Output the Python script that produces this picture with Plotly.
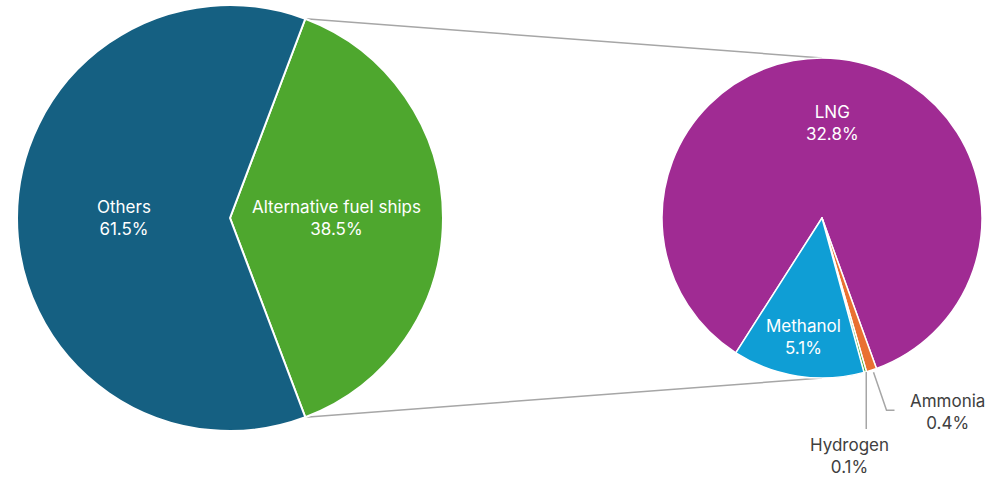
import math
import plotly.graph_objects as go

# ---------------- data ----------------
main_labels = ["Alternative fuel ships", "Others"]
main_values = [38.5, 61.5]

sub_labels = ["LNG", "Ammonia", "Hydrogen", "Methanol"]
sub_values = [32.8, 0.4, 0.1, 5.1]

# ---------------- styles ----------------
main_colors = ["#4EA72E", "#156082"]
sub_colors = ["#A02B93", "#E97132", "#4EA72E", "#0F9ED5"]
FONT = "Inter"
FS = 17
GRAY = "#A6A6A6"
DARK = "#404040"

W, H = 998, 478
L_CX, L_CY, L_R = 230, 218, 213      # left pie (px)
R_CX, R_CY, R_R = 822, 218, 160      # right pie (px)

main_total = sum(main_values)
sub_total = sum(sub_values)
# green slice centred on 3 o'clock
main_rot = 90 - 180 * main_values[0] / main_total
sub_rot = 212.6


def to_paper(x, y):
    return x / W, 1 - y / H


def pt(cx, cy, r, ang):
    a = math.radians(ang)
    return cx + r * math.sin(a), cy - r * math.cos(a)


def dom(cx, cy, r):
    return dict(x=[(cx - r) / W, (cx + r) / W],
                y=[(H - cy - r) / H, (H - cy + r) / H])


def mid_angles(values, rot):
    tot = sum(values)
    out, start = [], rot
    for v in values:
        span = 360 * v / tot
        out.append((start, start + span, start + span / 2))
        start += span
    return out


fig = go.Figure()
fig.add_trace(go.Pie(
    labels=main_labels, values=main_values, sort=False, direction="clockwise",
    rotation=main_rot, textinfo="none", hoverinfo="label+value",
    marker=dict(colors=main_colors, line=dict(color="white", width=2)),
    domain=dom(L_CX, L_CY, L_R), showlegend=False))
fig.add_trace(go.Pie(
    labels=sub_labels, values=sub_values, sort=False, direction="clockwise",
    rotation=sub_rot, textinfo="none", hoverinfo="label+value",
    marker=dict(colors=sub_colors, line=dict(color="white", width=1.5)),
    domain=dom(R_CX, R_CY, R_R), showlegend=False))

annotations = []
shapes = []


def pct(v):
    return f"{v:.1f}%"


def label(x, y, text, color):
    px_, py_ = to_paper(x, y)
    return dict(x=px_, y=py_, xref="paper", yref="paper", text=text,
                showarrow=False, xanchor="center", yanchor="middle",
                align="center",
                font=dict(family=FONT, size=FS, color=color))


# labels for the main pie
main_ang = mid_angles(main_values, main_rot)
for lab, v, (a0, a1, am) in zip(main_labels, main_values, main_ang):
    x, y = pt(L_CX, L_CY, L_R * 0.5, am)
    annotations.append(label(x, y, f"{lab}<br>{pct(v)}", "white"))

# labels for the sub pie
sub_ang = mid_angles(sub_values, sub_rot)
inside_frac = {"LNG": 0.6, "Methanol": 0.75}
for lab, v, (a0, a1, am) in zip(sub_labels, sub_values, sub_ang):
    if lab in inside_frac:
        x, y = pt(R_CX, R_CY, R_R * inside_frac[lab], am)
        annotations.append(label(x, y, f"{lab}<br>{pct(v)}", "white"))
    else:
        ex, ey = pt(R_CX, R_CY, R_R, am)
        if lab == "Ammonia":
            pts = [(ex + 2, ey + 2), (ex + 15, ey + 40), (ex + 23, ey + 40)]
            tx, ty = pts[-1][0] + 53, pts[-1][1] + 2
        else:
            pts = [(ex + 1, ey), (ex + 1, ey + 57)]
            tx, ty = ex - 16, ey + 84
        path = "M " + " L ".join(f"{to_paper(a, b)[0]:.5f},{to_paper(a, b)[1]:.5f}" for a, b in pts)
        shapes.append(dict(type="path", path=path, xref="paper", yref="paper",
                           line=dict(color=GRAY, width=1.5)))
        annotations.append(label(tx, ty, f"{lab}<br>{pct(v)}", DARK))

# connector lines between the two pies
top_l = pt(L_CX, L_CY, L_R, main_ang[0][0])
bot_l = pt(L_CX, L_CY, L_R, main_ang[0][1])
top_r = pt(R_CX, R_CY, R_R, 0)
bot_r = pt(R_CX, R_CY, R_R, 180)
for (a, b) in [(top_l, top_r), (bot_l, bot_r)]:
    x0, y0 = to_paper(*a)
    x1, y1 = to_paper(*b)
    shapes.append(dict(type="line", x0=x0, y0=y0, x1=x1, y1=y1,
                       xref="paper", yref="paper",
                       line=dict(color=GRAY, width=1.5), layer="below"))

fig.update_layout(
    width=W, height=H, margin=dict(l=0, r=0, t=0, b=0),
    paper_bgcolor="white", plot_bgcolor="white",
    annotations=annotations, shapes=shapes, showlegend=False,
    font=dict(family=FONT))

fig.write_html("out.html")
